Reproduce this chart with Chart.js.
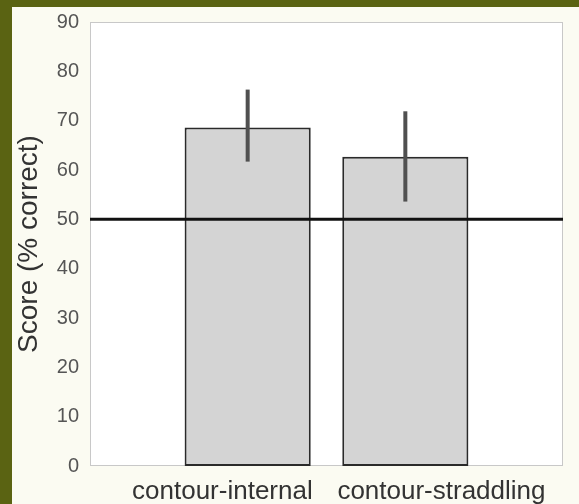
<!DOCTYPE html>
<html>
<head>
<meta charset="utf-8">
<script src="https://cdn.jsdelivr.net/npm/chart.js@4"></script>
<style>
  html, body { margin: 0; padding: 0; }
  body { width: 579px; height: 504px; background: #5a6312; position: relative; overflow: hidden; }
  #wrap { position: absolute; left: 12px; top: 7px; width: 567px; height: 497px; background: #fbfbf2; }
</style>
</head>
<body>
<div id="wrap"><canvas id="scoreChart" width="567" height="497"></canvas></div>
<script>
// Chart data
const categories = ["", "contour-internal", "contour-straddling", ""];
const scores = [null, 68.6, 62.7, null];
const errLow = [null, 61.7, 53.6, null];
const errHigh = [null, 76.3, 71.9, null];
const chanceLevel = 50;
const yTicks = [0, 10, 20, 30, 40, 50, 60, 70, 80, 90];

// labels sit a bit off the bar centres in the original
const labelPad = ["", "contour-internal       ", "          contour-straddling", ""];

// white plot box with thin grey frame
const plotBox = {
    id: "plotBox",
    beforeDatasetsDraw(chart) {
        const { ctx, chartArea: a } = chart;
        ctx.save();
        ctx.fillStyle = "#ffffff";
        ctx.fillRect(a.left, a.top, a.right - a.left, a.bottom - a.top);
        ctx.strokeStyle = "#c8c8c8";
        ctx.lineWidth = 1;
        ctx.strokeRect(a.left + 0.5, a.top + 0.5, a.right - a.left - 1, a.bottom - a.top - 1);
        ctx.restore();
    }
};

// chance line and error bars on top of the bars
const overlays = {
    id: "overlays",
    afterDatasetsDraw(chart) {
        const { ctx, chartArea: a, scales } = chart;
        const x = scales.x, y = scales.y;
        ctx.save();
        const yc = y.getPixelForValue(chanceLevel);
        ctx.strokeStyle = "#111111";
        ctx.lineWidth = 3;
        ctx.beginPath();
        ctx.moveTo(a.left, yc);
        ctx.lineTo(a.right, yc);
        ctx.stroke();

        ctx.strokeStyle = "#505050";
        ctx.lineWidth = 4;
        scores.forEach((v, i) => {
            if (v === null) return;
            const px = x.getPixelForValue(i);
            ctx.beginPath();
            ctx.moveTo(px, y.getPixelForValue(errLow[i]));
            ctx.lineTo(px, y.getPixelForValue(errHigh[i]));
            ctx.stroke();
        });
        ctx.restore();
    }
};

new Chart(document.getElementById("scoreChart"), {
    type: "bar",
    data: {
        labels: categories,
        datasets: [{
            data: scores,
            backgroundColor: "#d4d4d4",
            borderColor: "#2a2a2a",
            borderWidth: 2,
            borderSkipped: false,
            categoryPercentage: 1,
            barPercentage: 0.8
        }]
    },
    options: {
        responsive: false,
        animation: false,
        layout: { padding: { top: 15, right: 16, bottom: 0, left: 0 } },
        plugins: {
            legend: { display: false },
            tooltip: { enabled: false }
        },
        scales: {
            x: {
                offset: false,
                grid: { display: false, drawTicks: false },
                border: { display: false },
                ticks: {
                    autoSkip: false,
                    maxRotation: 0,
                    minRotation: 0,
                    padding: 10,
                    color: "#333333",
                    font: { family: "'Liberation Sans', Arial, sans-serif", size: 26 },
                    callback: (val, i) => labelPad[i]
                },
                afterFit(scale) {
                    scale.height = 38;
                    scale.paddingLeft = 0;
                    scale.paddingRight = 0;
                }
            },
            y: {
                min: 0,
                max: 90,
                afterBuildTicks(scale) { scale.ticks = yTicks.map(v => ({ value: v })); },
                grid: { display: false, drawTicks: false },
                border: { display: false },
                ticks: {
                    padding: 11,
                    color: "#555555",
                    font: { family: "'Liberation Sans', Arial, sans-serif", size: 20 }
                },
                title: {
                    display: true,
                    text: "Score (% correct)",
                    color: "#333333",
                    padding: { top: 0, bottom: 0 },
                    font: { family: "'Liberation Sans', Arial, sans-serif", size: 28 }
                },
                afterFit(scale) {
                    scale.width = 78;
                    scale.paddingTop = 0;
                    scale.paddingBottom = 0;
                }
            }
        }
    },
    plugins: [plotBox, overlays]
});
</script>
</body>
</html>
